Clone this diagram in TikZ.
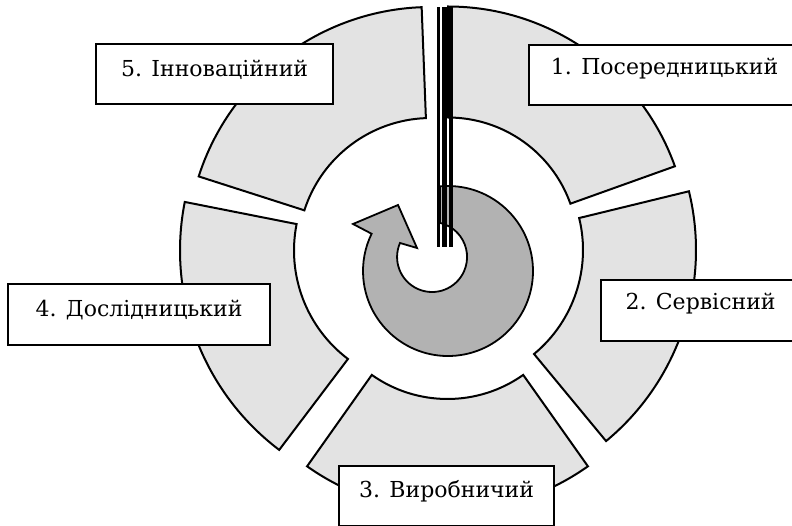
\documentclass[tikz,border=0pt]{standalone}
\usepackage{fontspec}
\setmainfont{DejaVu Serif}
\usetikzlibrary{calc}
\definecolor{segfill}{RGB}{227,227,227}
\definecolor{arrowfill}{RGB}{178,178,178}
\newcommand\ringsector[6]{%
  \draw[seg,shift={(#1,#2)}] (#5:#4) arc[start angle=#5,end angle=#6,radius=#4]
    -- (#6:#3) arc[start angle=#6,end angle=#5,radius=#3] -- cycle;}
\begin{document}
\begin{tikzpicture}[x=1pt,y=1pt,
  seg/.style={draw=black,line width=2pt,fill=segfill,line join=miter},
  arr/.style={draw=black,line width=1.8pt,fill=arrowfill,line join=miter},
  bar/.style={fill=black},
  box/.style={draw=black,line width=2.2pt,fill=white,inner sep=0pt,anchor=north west},
  lbl/.style={inner sep=0pt,anchor=base,font=\fontsize{22}{26}\selectfont}]
\useasboundingbox (0,0) rectangle (792,-526);
% ring segments
\ringsector{448}{-247.5}{130}{241}{90}{19.7}
\ringsector{448}{-250}{135}{248}{13.7}{-50.4}
\ringsector{447.5}{-268}{131}{243}{-54.7}{-125.3}
\ringsector{430}{-250.5}{136}{250}{-127.1}{-191.2}
\ringsector{431}{-251}{133}{244}{162.2}{92.2}
% circular arrow
\draw[arr] (440,-186.4) arc[start angle=95.4,end angle=-206,radius=85]
  -- (353,-224) -- (398,-205) -- (417,-248) -- (400,-243)
  arc[start angle=156.4,end angle=436.8,radius=35] -- cycle;
% vertical bars
\fill[bar] (436.7,-7) rectangle (440.2,-247);
\fill[bar] (442.3,-7) rectangle (447.3,-247);
\fill[bar] (449.2,-7) rectangle (452.8,-247);
% label boxes
\node[box,minimum width=237,minimum height=60] (b5) at (95,-43) {};
\node[box,minimum width=271,minimum height=60] (b1) at (528,-44) {};
\node[box,minimum width=262,minimum height=61] (b4) at (7,-283) {};
\node[box,minimum width=199,minimum height=61] (b2) at (600,-279) {};
\node[box,minimum width=215,minimum height=60] (b3) at (338,-465) {};
\node[lbl] (t5) at ($(b5.north)+(0,-34)$) {5. Інноваційний};
\node[lbl] (t1) at ($(b1.north)+(0,-31)$) {1. Посередницький};
\node[lbl] (t4) at ($(b4.north)+(0,-34)$) {4. Дослідницький};
\node[lbl] (t2) at ($(b2.north)+(0,-31)$) {2. Сервісний};
\node[lbl] (t3) at ($(b3.north)+(0,-32)$) {3. Виробничий};
\end{tikzpicture}
\end{document}
